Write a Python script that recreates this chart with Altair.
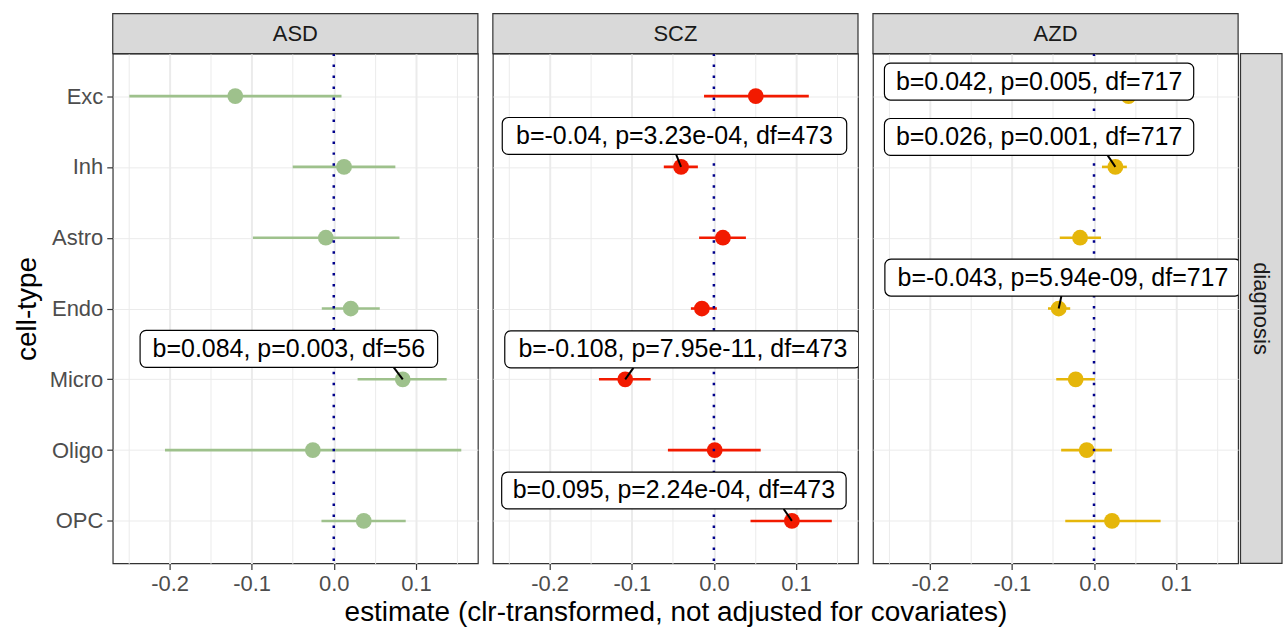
import json
import altair as alt
import pandas as pd

# ---------------- data ----------------
cell_types = ["Exc", "Inh", "Astro", "Endo", "Micro", "Oligo", "OPC"]
diagnoses = ["ASD", "SCZ", "AZD"]
colors = ["#9EC18C", "#F21A00", "#E5B60A"]

asd_est = [-0.120, 0.0125, -0.0097, 0.0207, 0.084, -0.0255, 0.0365]
asd_lo = [-0.249, -0.050, -0.0985, -0.0146, 0.029, -0.2056, -0.015]
asd_hi = [0.0094, 0.075, 0.080, 0.056, 0.1375, 0.1553, 0.0876]

scz_est = [0.051, -0.040, 0.011, -0.0146, -0.108, 0.001, 0.095]
scz_lo = [-0.012, -0.061, -0.018, -0.028, -0.140, -0.056, 0.0446]
scz_hi = [0.1156, -0.0195, 0.039, 0.0036, -0.077, 0.057, 0.1436]

azd_est = [0.042, 0.026, -0.017, -0.043, -0.0223, -0.0089, 0.0219]
azd_lo = [0.027, 0.0097, -0.0417, -0.056, -0.046, -0.040, -0.035]
azd_hi = [0.057, 0.040, 0.0085, -0.029, 0.0012, 0.0219, 0.0811]

# annotation labels (ggrepel-style)
ann_diag = ["ASD", "SCZ", "SCZ", "SCZ", "AZD", "AZD", "AZD"]
ann_cell = ["Micro", "Inh", "Micro", "OPC", "Exc", "Inh", "Endo"]
ann_text = [
    "b=0.084, p=0.003, df=56",
    "b=-0.04, p=3.23e-04, df=473",
    "b=-0.108, p=7.95e-11, df=473",
    "b=0.095, p=2.24e-04, df=473",
    "b=0.042, p=0.005, df=717",
    "b=0.026, p=0.001, df=717",
    "b=-0.043, p=5.94e-09, df=717",
]
ann_x = [-0.0547, -0.048, -0.0378, -0.0487, -0.0669, -0.0669, -0.0378]
ann_dy = [-0.43, -0.437, -0.423, -0.43, -0.205, -0.423, -0.437]
seg_dx = [-0.011, -0.006, 0.010, -0.010, 0.0, -0.0094, 0.0033]

x_title = "estimate (clr-transformed, not adjusted for covariates)"
y_title = "cell-type"
strip_right = "diagnosis"

# ---------------- layout constants ----------------
FONT = "Liberation Sans, Arial, Helvetica, sans-serif"
W = 366
H = 511
STRIP_H = 40
TICK_FS = 22
TITLE_FS = 28
LABEL_FS = 25
BOX_HALF_H = 18.5

rows = []
for d, est, lo, hi in zip(diagnoses, [asd_est, scz_est, azd_est],
                          [asd_lo, scz_lo, azd_lo], [asd_hi, scz_hi, azd_hi]):
    for k, c in enumerate(cell_types):
        rows.append(dict(diagnosis=d, cell=c, idx=k, est=est[k], lo=lo[k], hi=hi[k]))
df = pd.DataFrame(rows)

xmin, xmax = df["lo"].min(), df["hi"].max()
span = xmax - xmin
xdom = [xmin - 0.05 * span, xmax + 0.05 * span]
ydom = [-0.6, len(cell_types) - 1 + 0.6]
ppu = W / (xdom[1] - xdom[0])
step = H / (ydom[1] - ydom[0])

ann = pd.DataFrame(dict(diagnosis=ann_diag, cell=ann_cell, label=ann_text,
                        lx=ann_x, ldy=ann_dy, sdx=seg_dx))
ann = ann.merge(df[["diagnosis", "cell", "idx", "est"]], on=["diagnosis", "cell"])

ticks = [round(-0.25 + 0.05 * i, 2) for i in range(9)]
minor_test = "abs(round(datum.value*20)) % 2 == 1"
x_label_expr = ("abs(round(datum.value*20)) % 2 == 1 ? '' : "
                "(datum.value < -1e-9 ? '-' : '') + format(abs(datum.value), '.1f')")
y_label_expr = json.dumps(cell_types) + "[datum.value]"

xscale = alt.Scale(domain=xdom, nice=False, zero=False)
yscale = alt.Scale(domain=ydom, reverse=True, nice=False, zero=False)


def panel(i, d, color):
    last = i == len(diagnoses) - 1
    xaxis = alt.Axis(
        values=ticks, labelExpr=x_label_expr,
        title=x_title if i == 1 else None,
        tickOpacity={"condition": {"test": minor_test, "value": 0}, "value": 1},
        gridWidth={"condition": {"test": minor_test, "value": 1}, "value": 2},
    )
    if i == 0:
        yaxis = alt.Axis(values=list(range(len(cell_types))), labelExpr=y_label_expr,
                         title=y_title)
    else:
        yaxis = alt.Axis(values=list(range(len(cell_types))), labels=False, ticks=False,
                         title=None)

    base = alt.Chart(df).transform_filter(alt.datum.diagnosis == d)

    errbar = base.mark_rule(color=color, strokeWidth=2.6).encode(
        x=alt.X("lo:Q", scale=xscale, axis=xaxis),
        x2="hi:Q",
        y=alt.Y("idx:Q", scale=yscale, axis=yaxis),
    )
    pts = base.mark_circle(color=color, size=250, opacity=1).encode(
        x=alt.X("est:Q", scale=xscale, axis=xaxis),
        y=alt.Y("idx:Q", scale=yscale, axis=yaxis),
    )
    vline = alt.Chart(pd.DataFrame({"z": [0.0]})).mark_rule(
        color="#00008B", strokeWidth=2.5, strokeDash=[2.5, 8.5]
    ).encode(x=alt.X("z:Q", scale=xscale, axis=xaxis))

    abase = alt.Chart(ann).transform_filter(alt.datum.diagnosis == d).transform_calculate(
        ly="datum.idx + datum.ldy",
        half=f"(11.75*length(datum.label) + 28) / 2 / {ppu}",
    ).transform_calculate(
        bx1="datum.lx - datum.half",
        bx2="datum.lx + datum.half",
        by1=f"datum.ly - {BOX_HALF_H / step}",
        by2=f"datum.ly + {BOX_HALF_H / step}",
        sx="datum.est + datum.sdx",
    )
    seg = abase.mark_rule(color="black", strokeWidth=2).encode(
        x=alt.X("sx:Q", scale=xscale, axis=xaxis), x2="est:Q",
        y=alt.Y("by2:Q", scale=yscale, axis=yaxis), y2="idx:Q",
    )
    box = abase.mark_rect(fill="white", stroke="black", strokeWidth=1.2,
                          cornerRadius=6, clip=True).encode(
        x=alt.X("bx1:Q", scale=xscale, axis=xaxis), x2="bx2:Q",
        y=alt.Y("by1:Q", scale=yscale, axis=yaxis), y2="by2:Q",
    )
    txt = abase.mark_text(fontSize=LABEL_FS, font=FONT, color="black", clip=True,
                          align="center", baseline="middle").encode(
        x=alt.X("lx:Q", scale=xscale, axis=xaxis),
        y=alt.Y("ly:Q", scale=yscale, axis=yaxis),
        text="label:N",
    )

    sdf = pd.DataFrame({"diagnosis": [d]})
    strip = alt.Chart(sdf).mark_rect(fill="#D9D9D9", stroke="#333333", strokeWidth=1.2).encode(
        x=alt.value(0), x2=alt.value(W), y=alt.value(-STRIP_H), y2=alt.value(0)
    )
    strip_txt = alt.Chart(sdf).mark_text(fontSize=TICK_FS, font=FONT, color="#1A1A1A",
                                         align="center", baseline="middle").encode(
        x=alt.value(W / 2), y=alt.value(-STRIP_H / 2), text="diagnosis:N"
    )
    layers = [errbar, pts, vline, seg, box, txt, strip, strip_txt]
    if last:
        rdf = pd.DataFrame({"lab": [strip_right]})
        rstrip = alt.Chart(rdf).mark_rect(fill="#D9D9D9", stroke="#333333", strokeWidth=1.2).encode(
            x=alt.value(W + 2.4), x2=alt.value(W + 44), y=alt.value(0), y2=alt.value(H)
        )
        rtxt = alt.Chart(rdf).mark_text(fontSize=TICK_FS, font=FONT, color="#1A1A1A",
                                        align="center", baseline="middle", angle=90).encode(
            x=alt.value(W + 23.2), y=alt.value(H / 2), text="lab:N"
        )
        layers += [rstrip, rtxt]
    return alt.layer(*layers).properties(width=W, height=H)


panels = [panel(i, d, c) for i, (d, c) in enumerate(zip(diagnoses, colors))]

chart = alt.hconcat(*panels, spacing=15, bounds="flush").properties(
    padding={"left": 12, "top": 11, "right": 1, "bottom": 2}
).configure_view(
    stroke="#333333", strokeWidth=1.2
).configure_axis(
    domain=False,
    grid=True,
    gridColor="#EBEBEB",
    labelFont=FONT, labelFontSize=TICK_FS, labelColor="#4D4D4D",
    tickColor="#333333", tickSize=6, tickWidth=1.2,
    labelPadding=4,
    titleFont=FONT, titleFontSize=TITLE_FS, titleColor="black", titleFontWeight="normal",
    titlePadding=4,
).configure_axisY(
    titlePadding=8,
)

chart.save("out.html", embed_options={"renderer": "svg", "actions": False})
